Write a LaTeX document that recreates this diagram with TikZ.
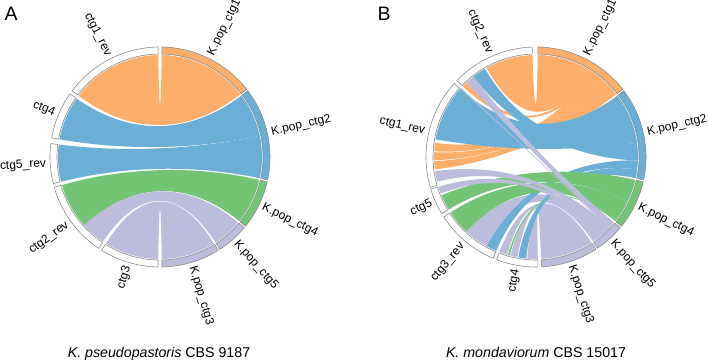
\documentclass[tikz,border=0pt]{standalone}
\usepackage{fontspec}
\setmainfont{Liberation Sans}
\definecolor{cor}{RGB}{253,174,107}
\definecolor{cbl}{RGB}{107,174,214}
\definecolor{cgr}{RGB}{116,196,118}
\definecolor{cla}{RGB}{188,189,220}
\definecolor{trkline}{RGB}{140,140,140}
% ribbon: colour, query arc a1->a2, target arc b1->b2
\newcommand{\rib}[5]{\fill[#1] (#2:102pt) arc[start angle=#2,end angle=#3,radius=102pt] .. controls (#3:36pt) and (#4:36pt) .. (#4:102pt) arc[start angle=#4,end angle=#5,radius=102pt] .. controls (#5:36pt) and (#2:36pt) .. cycle;}
% track sector: fill, from angle, to angle
\newcommand{\trk}[3]{\filldraw[fill=#1,draw=trkline,line width=0.6pt] (#2:103pt) arc[start angle=#2,end angle=#3,radius=103pt] -- (#3:110pt) arc[start angle=#3,end angle=#2,radius=110pt] -- cycle;}
\newcommand{\labR}[3]{\node[lab,anchor=west,rotate=#2] (#1) at (#2:114pt) {#3};}
\newcommand{\labL}[3]{\node[lab,anchor=east,rotate=#2+180] (#1) at (#2:114pt) {#3};}
\begin{document}
\begin{tikzpicture}[x=1pt,y=1pt,
  lab/.style={inner sep=0pt,font=\fontsize{12}{14}\selectfont},
  ttl/.style={inner sep=0pt,anchor=base,font=\fontsize{14.2}{16}\selectfont},
  panel/.style={inner sep=0pt,anchor=base west,font=\fontsize{19.5}{22}\selectfont}]
\useasboundingbox (0,0) rectangle (708,362);
\fill[white] (0,0) rectangle (708,362);

% ---------------- Panel A ----------------
\begin{scope}[shift={(160,205)}]
  \rib{cor}{143}{91}{89}{38}
  \rib{cbl}{170}{145}{37}{12}
  \rib{cbl}{194}{173}{12}{-12}
  \rib{cgr}{-138}{-164}{-13}{-39}
  \rib{cla}{-124}{-138}{-40}{-57}
  \rib{cla}{-91}{-122}{-58}{-89}
  \trk{cor}{89}{38}
  \trk{cbl}{37}{-12}
  \trk{cgr}{-13}{-39}
  \trk{cla}{-40}{-57}
  \trk{cla}{-58}{-89}
  \trk{white}{-91}{-122}
  \trk{white}{-124}{-164}
  \trk{white}{194}{173}
  \trk{white}{170}{145}
  \trk{white}{143}{91}
  \labR{aK1}{63.5}{K.pop\_ctg1}
  \labR{aK2}{12.5}{K.pop\_ctg2}
  \labR{aK4}{-26}{K.pop\_ctg4}
  \labR{aK5}{-48.5}{K.pop\_ctg5}
  \labR{aK3}{-73.5}{K.pop\_ctg3}
  \labL{a3}{-106.5}{ctg3}
  \labL{a2r}{-144}{ctg2\_rev}
  \labL{a5r}{183.5}{ctg5\_rev}
  \labL{a4}{157.5}{ctg4}
  \labL{a1r}{117}{ctg1\_rev}
\end{scope}

% ---------------- Panel B ----------------
\begin{scope}[shift={(536,205)}]
  \rib{cor}{136}{133}{58}{55}
  \rib{cor}{187}{182.3}{45}{38}
  \rib{cor}{181.8}{177.3}{51}{45}
  \rib{cor}{176.8}{172}{57}{51}
  \rib{cor}{119}{92}{89}{58}
  \rib{cbl}{170}{138}{37}{8}
  \rib{cbl}{128}{120}{8}{-2}
  \rib{cla}{-119}{-133}{-44}{-56}
  \rib{cla}{-106.5}{-111}{-57}{-66}
  \rib{cla}{-100.5}{-104.5}{-66}{-75}
  \rib{cla}{-89}{-95}{-75}{-87}
  \rib{cbl}{-113}{-119}{-2}{-7}
  \rib{cbl}{-95.5}{-100}{-7}{-12}
  \rib{cgr}{-149}{-158}{-13}{-26}
  \rib{cgr}{-133}{-147}{-26}{-38}
  \rib{cgr}{-105}{-106}{-38}{-39}
  \rib{cla}{133}{128}{-40}{-44}
  \rib{cla}{138}{137.3}{-44}{-44.6}
  \rib{cla}{194}{188}{-44}{-48}
  \rib{cla}{-159}{-163}{-48}{-52}
  \trk{cor}{89}{38}
  \trk{cbl}{37}{-12}
  \trk{cgr}{-13}{-39}
  \trk{cla}{-40}{-56}
  \trk{cla}{-57}{-87}
  \trk{white}{-89}{-111}
  \trk{white}{-113}{-147}
  \trk{white}{-149}{-163}
  \trk{white}{196}{138}
  \trk{white}{136}{92}
  \labR{bK1}{63.5}{K.pop\_ctg1}
  \labR{bK2}{12.5}{K.pop\_ctg2}
  \labR{bK4}{-26}{K.pop\_ctg4}
  \labR{bK5}{-48}{K.pop\_ctg5}
  \labR{bK3}{-72}{K.pop\_ctg3}
  \labL{b4}{-100}{ctg4}
  \labL{b3r}{-130}{ctg3\_rev}
  \labL{b5}{-156}{ctg5}
  \labL{b1r}{167}{ctg1\_rev}
  \labL{b2r}{114}{ctg2\_rev}
\end{scope}

\node[panel] (pA) at (4.5,341) {A};
\node[panel] (pB) at (377.5,341) {B};
\node[ttl] (tA) at (159,5) {\textit{K. pseudopastoris} CBS 9187};
\node[ttl] (tB) at (536,5) {\textit{K. mondaviorum} CBS 15017};
\end{tikzpicture}
\end{document}
